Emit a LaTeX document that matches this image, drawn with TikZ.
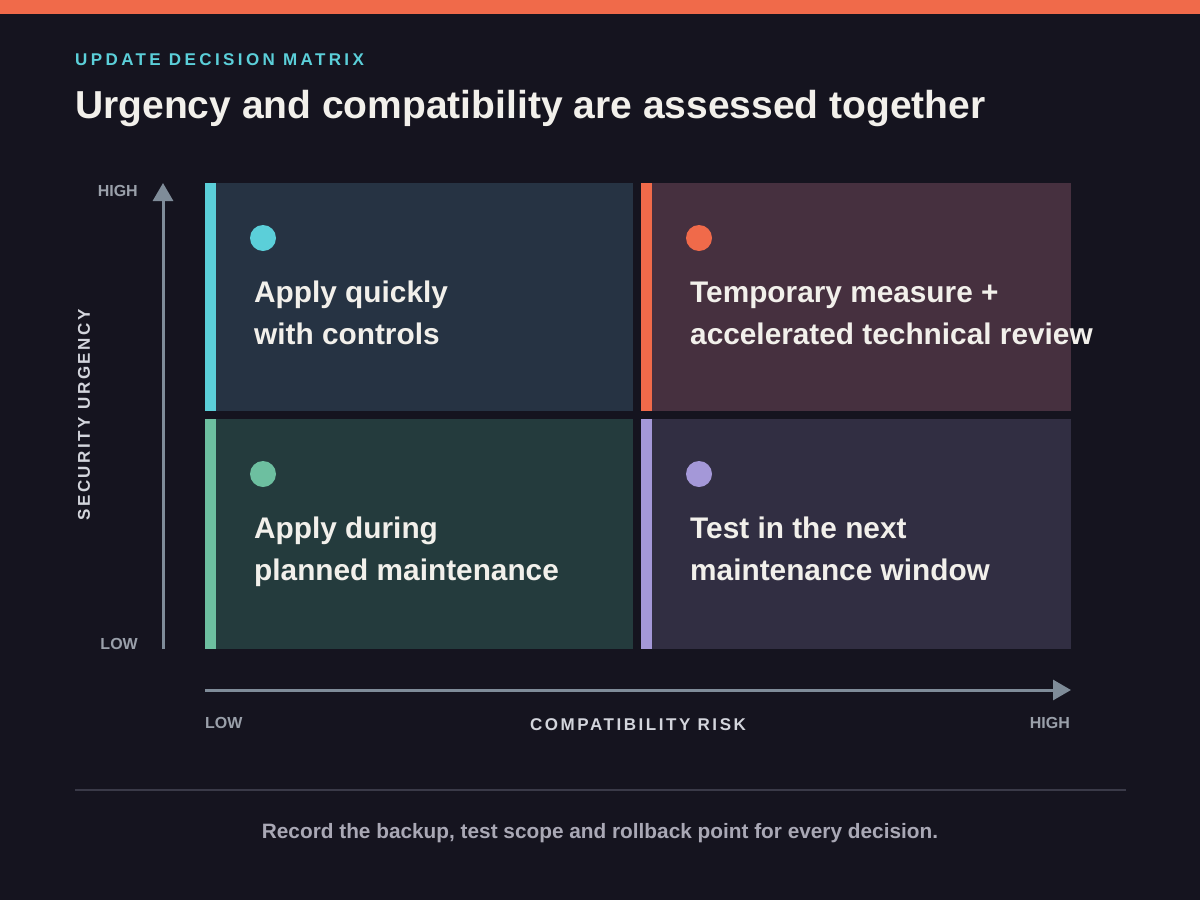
\documentclass[tikz,border=0pt]{standalone}
\usepackage{fontspec}
\setmainfont{Liberation Sans}
\newfontfamily\spacedfont[LetterSpace=20]{Liberation Sans}
\newfontfamily\axisfont[LetterSpace=15]{Liberation Sans}
\usetikzlibrary{arrows.meta}
\definecolor{bg}{HTML}{15141F}
\definecolor{topbar}{HTML}{F06A4A}
\definecolor{cyanc}{HTML}{5BCFD9}
\definecolor{orangec}{HTML}{F06A4A}
\definecolor{greenc}{HTML}{6DBFA0}
\definecolor{lavc}{HTML}{A498D8}
\definecolor{qtl}{HTML}{263343}
\definecolor{qtr}{HTML}{46303F}
\definecolor{qbl}{HTML}{243B3D}
\definecolor{qbr}{HTML}{312E42}
\definecolor{titlec}{HTML}{F2F0EB}
\definecolor{axisc}{HTML}{7F8C99}
\definecolor{ticklabel}{HTML}{9AA0AA}
\definecolor{axislabel}{HTML}{D3D5DC}
\definecolor{sepc}{HTML}{3A3A48}
\definecolor{footc}{HTML}{A9A8B5}
\tikzset{
  dot/.style={circle, inner sep=0pt, minimum size=26pt},
  qtext/.style={anchor=base west, align=left, inner sep=0pt, text=titlec,
    font=\fontsize{29.8}{42}\selectfont\bfseries},
  tick/.style={inner sep=0pt, text=ticklabel, font=\fontsize{16}{18}\selectfont\bfseries},
  axisarrow/.style={draw=axisc, line width=3pt, -{Triangle[length=18pt,width=20pt]}},
}
\begin{document}
\begin{tikzpicture}[x=1pt,y=-1pt]
\useasboundingbox (0,0) rectangle (1200,900);
\fill[bg] (0,0) rectangle (1200,900);
\fill[topbar] (0,0) rectangle (1200,14);

\node[anchor=base west, inner sep=0pt, text=cyanc, font=\fontsize{17}{20}\spacedfont\bfseries] (kicker) at (75,65) {UPDATE DECISION MATRIX};
\node[anchor=base west, inner sep=0pt, text=titlec, font=\fontsize{39}{42}\selectfont\bfseries] (title) at (75,118) {Urgency and compatibility are assessed together};

% quadrants
\fill[qtl] (205,183) rectangle (633,411);
\fill[cyanc] (205,183) rectangle (216,411);
\fill[qtr] (641,183) rectangle (1071,411);
\fill[orangec] (641,183) rectangle (652,411);
\fill[qbl] (205,419) rectangle (633,649);
\fill[greenc] (205,419) rectangle (216,649);
\fill[qbr] (641,419) rectangle (1071,649);
\fill[lavc] (641,419) rectangle (652,649);

\node[dot, fill=cyanc] (d1) at (263,238) {};
\node[dot, fill=orangec] (d2) at (699,238) {};
\node[dot, fill=greenc] (d3) at (263,474) {};
\node[dot, fill=lavc] (d4) at (699,474) {};

\node[qtext] (t1) at (254,344) {Apply quickly\\with controls};
\node[qtext] (t2) at (690,344) {Temporary measure +\\accelerated technical review};
\node[qtext] (t3) at (254,580) {Apply during\\planned maintenance};
\node[qtext] (t4) at (690,580) {Test in the next\\maintenance window};

% axes
\coordinate (ybot) at (163,649);
\coordinate (ytop) at (163,183);
\draw[axisarrow] (ybot) -- (ytop);
\coordinate (xl) at (205,690);
\coordinate (xr) at (1071,690);
\draw[axisarrow] (xl) -- (xr);

\node[tick, anchor=base east] (yhigh) at (138,196) {HIGH};
\node[tick, anchor=base east] (ylow) at (138,649) {LOW};
\node[tick, anchor=base west] (xlow) at (205,728) {LOW};
\node[tick, anchor=base east] (xhigh) at (1070,728) {HIGH};

\node[inner sep=0pt, text=axislabel, rotate=90, font=\fontsize{17}{18}\axisfont\bfseries] (ylabel) at (84,415) {SECURITY URGENCY};
\node[inner sep=0pt, text=axislabel, anchor=base, font=\fontsize{17}{18}\axisfont\bfseries] (xlabel) at (638,730) {COMPATIBILITY RISK};

\draw[sepc, line width=2pt] (75,790) -- (1126,790);
\node[inner sep=0pt, anchor=base, text=footc, font=\fontsize{20.8}{22}\selectfont\bfseries] (foot) at (600,838) {Record the backup, test scope and rollback point for every decision.};
\end{tikzpicture}
\end{document}
